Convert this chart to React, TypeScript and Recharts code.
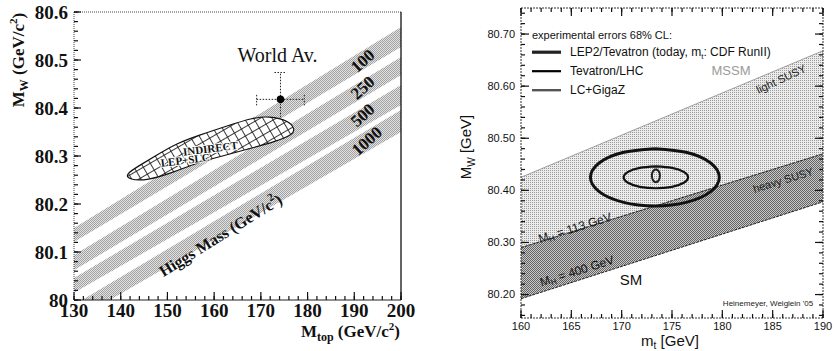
import React from 'react';
import { ComposedChart, XAxis, YAxis, Area, Scatter, ErrorBar, ReferenceDot } from 'recharts';

// ---------------- Left panel data (M_top vs M_W, Higgs bands) ----------------
const leftTopMassTicks = [130, 140, 150, 160, 170, 180, 190, 200];
const leftMwTicks = [80, 80.1, 80.2, 80.3, 80.4, 80.5, 80.6];
const higgsLabels = ['100', '250', '500', '1000'];
const bandEndsMtop = [130, 200];
const bandLowAt130 = [80.121, 80.062, 80.015, 79.957];
const bandHighAt130 = [80.15, 80.094, 80.046, 79.99];
const bandLowAt200 = [80.527, 80.469, 80.406, 80.35];
const bandHighAt200 = [80.569, 80.506, 80.448, 80.396];
const higgsLabelMtop = [191.8, 191.8, 191.8, 192.7];
const higgsLabelMw = [80.498, 80.442, 80.385, 80.331];

// outline of the hatched INDIRECT (LEP+SLC) contour
const indirectMtop = [161.35, 167.07, 172.8, 176.4, 177.0, 175.6, 171.8, 167.79, 162.78, 157.06, 152.05, 147.75, 144.17, 141.6, 142.3, 146.0, 151.33, 156.34, 161.35];
const indirectMw = [80.299, 80.314, 80.33, 80.345, 80.357, 80.372, 80.381, 80.377, 80.3625, 80.344, 80.325, 80.302, 80.281, 80.263, 80.252, 80.252, 80.267, 80.285, 80.299];

const worldMtop = [174.2];
const worldMw = [80.418];
const worldMtopErr = [5.1];
const worldMwErr = [0.056];

// ---------------- Right panel data (m_t vs M_W, MSSM / SM) ----------------
const rightTopMassTicks = [160, 165, 170, 175, 180, 185, 190];
const rightMwTicks = [80.2, 80.3, 80.4, 80.5, 80.6, 80.7];
const regionEndsMt = [160, 190];
const mssmUpperMw = [80.425, 80.668];
const mh113Mw = [80.29, 80.47];
const mh400Mw = [80.192, 80.378];

const outerMt = [173.3, 176.5, 178.84, 179.7, 178.84, 176.5, 173.3, 170.1, 167.76, 166.9, 167.76, 170.1, 173.3];
const outerMw = [80.48, 80.4726, 80.4525, 80.425, 80.3975, 80.3774, 80.37, 80.3774, 80.3975, 80.425, 80.4525, 80.4726, 80.48];
const innerMt = [173.4, 175.0, 176.17, 176.6, 176.17, 175.0, 173.4, 171.8, 170.63, 170.2, 170.63, 171.8, 173.4];
const innerMw = [80.446, 80.4432, 80.4355, 80.425, 80.4145, 80.4068, 80.404, 80.4068, 80.4145, 80.425, 80.4355, 80.4432, 80.446];
const gigazMt = [173.4, 173.68, 173.8, 173.68, 173.4, 173.12, 173.0, 173.12, 173.4];
const gigazMw = [80.4405, 80.4368, 80.428, 80.4192, 80.4155, 80.4192, 80.428, 80.4368, 80.4405];

const legendEntries = ['LEP2/Tevatron (today, m', 'Tevatron/LHC', 'LC+GigaZ'];

// ---------------- helpers ----------------
const SERIF = '"Liberation Serif", "Times New Roman", serif';
const SANS = '"Liberation Sans", Arial, Helvetica, sans-serif';
const TICK_COLOR = '#111';

function range(start: number, stop: number, step: number): number[] {
  const out: number[] = [];
  const n = Math.round((stop - start) / step);
  for (let i = 0; i <= n; i++) out.push(Number((start + i * step).toFixed(4)));
  return out;
}

const pts = (xs: number[], ys: number[]) => xs.map((x, i) => ({ x, y: ys[i] }));
const noDot = () => <g />;

type Side = 'top' | 'bottom' | 'left' | 'right';

const note = (key: string, x: number, y: number, draw: (cx: number, cy: number) => React.ReactElement) => (
  <ReferenceDot key={key} x={x} y={y} r={0} fill="none" stroke="none" ifOverflow="visible" shape={(p: any) => draw(p.cx, p.cy)} />
);

// inward tick marks placed on the frame through the chart's own scales
const tickMarks = (prefix: string, values: number[], side: Side, edge: number, len: number) =>
  values.map((v) => {
    const onX = side === 'top' || side === 'bottom';
    return note(`${prefix}${v}`, onX ? v : edge, onX ? edge : v, (cx, cy) => {
      const d = side === 'bottom' ? [cx, cy, cx, cy - len] : side === 'top' ? [cx, cy, cx, cy + len]
        : side === 'left' ? [cx, cy, cx + len, cy] : [cx, cy, cx - len, cy];
      return <line x1={d[0]} y1={d[1]} x2={d[2]} y2={d[3]} stroke={TICK_COLOR} strokeWidth={1.2} />;
    });
  });

const frameX = (id: string, orientation: 'top' | 'bottom', domain: number[], axisLine: any) => (
  <XAxis key={id} xAxisId={id} dataKey="x" orientation={orientation} mirror type="number" domain={domain as any} allowDataOverflow
    ticks={domain} interval={0} tick={false} tickLine={false} axisLine={axisLine} height={2} />
);
const frameY = (id: string, orientation: 'left' | 'right', domain: number[], axisLine: any) => (
  <YAxis key={id} yAxisId={id} dataKey="y" orientation={orientation} mirror type="number" domain={domain as any} allowDataOverflow
    ticks={domain} interval={0} tick={false} tickLine={false} axisLine={axisLine} width={2} />
);

function Patterns() {
  return (
    <svg width={0} height={0} style={{ position: 'absolute' }}>
      <defs>
        <pattern id="bandStipple" width={2} height={2} patternUnits="userSpaceOnUse">
          <rect width={2} height={2} fill="#e2e2e2" />
          <rect x={0} y={0} width={1} height={1} fill="#a2a2a2" />
          <rect x={1} y={1} width={1} height={1} fill="#a2a2a2" />
        </pattern>
        <pattern id="indirectHatch" width={8} height={8} patternUnits="userSpaceOnUse" patternTransform="rotate(-30)">
          <rect width={8} height={8} fill="#ffffff" />
          <path d="M0 0.5 H8 M0.5 0 V8" stroke="#222" strokeWidth={0.9} />
        </pattern>
        <pattern id="mssmStipple" width={2} height={2} patternUnits="userSpaceOnUse">
          <rect width={2} height={2} fill="#ececec" />
          <rect width={1} height={1} fill="#9a9a9a" />
        </pattern>
        <pattern id="smStipple" width={2} height={2} patternUnits="userSpaceOnUse">
          <rect width={2} height={2} fill="#c8c8c8" />
          <rect width={1} height={1} fill="#646464" />
          <rect x={1} y={1} width={1} height={1} fill="#646464" />
        </pattern>
      </defs>
    </svg>
  );
}

const bandData = (i: number) =>
  bandEndsMtop.map((x, j) => ({ x, r: j === 0 ? [bandLowAt130[i], bandHighAt130[i]] : [bandLowAt200[i], bandHighAt200[i]] }));

function LeftPanel() {
  const xd = [130, 200];
  const yd = [80, 80.6];
  const labelStyle = { fill: '#111', fontSize: 19, fontWeight: 700, fontFamily: SERIF };
  const world = worldMtop.map((x, i) => ({ x, y: worldMw[i], ex: worldMtopErr[i], ey: worldMwErr[i] }));
  return (
    <div style={{ position: 'relative', width: 420, height: 351 }}>
      <ComposedChart width={420} height={351} margin={{ top: 12, right: 19, bottom: 0, left: 0 }}>
        <XAxis dataKey="x" type="number" domain={xd} allowDataOverflow ticks={leftTopMassTicks} interval={0}
          tickLine={false} tickSize={0} tickMargin={4} height={51} axisLine={{ stroke: '#222', strokeWidth: 1.2 }} tick={labelStyle} />
        <YAxis dataKey="y" type="number" domain={yd} allowDataOverflow ticks={leftMwTicks} interval={0}
          tickLine={false} tickSize={0} tickMargin={6} width={74} axisLine={{ stroke: '#444', strokeWidth: 1, strokeDasharray: '1 1' }}
          tick={labelStyle} tickFormatter={(v: number) => String(v)} />
        {frameX('ltop', 'top', xd, { stroke: '#444', strokeWidth: 1, strokeDasharray: '1 1' })}
        {frameY('lright', 'right', yd, { stroke: '#111', strokeWidth: 1.3 })}

        {higgsLabels.map((h, i) => (
          <Area key={`band${h}`} data={bandData(i)} dataKey="r" type="linear" stroke="none" fill="url(#bandStipple)"
            fillOpacity={1} dot={false} activeDot={false} isAnimationActive={false} />
        ))}

        <Scatter data={pts(indirectMtop, indirectMw)} line={{ stroke: '#111', strokeWidth: 1.2, fill: 'url(#indirectHatch)' }}
          lineJointType="natural" shape={noDot} isAnimationActive={false} />

        <Scatter data={world} isAnimationActive={false}
          shape={(p: any) => <circle cx={p.cx} cy={p.cy} r={3.8} fill="#000" />}>
          <ErrorBar dataKey="ex" direction="x" width={6} stroke="#222" strokeWidth={1} strokeDasharray="1.5 1.5" />
          <ErrorBar dataKey="ey" direction="y" width={6} stroke="#222" strokeWidth={1} strokeDasharray="1.5 1.5" />
        </Scatter>

        {tickMarks('lbM', leftTopMassTicks, 'bottom', yd[0], 8)}
        {tickMarks('lbm', range(130, 200, 2), 'bottom', yd[0], 4)}
        {tickMarks('llM', leftMwTicks, 'left', xd[0], 7)}
        {tickMarks('llm', range(80, 80.6, 0.02), 'left', xd[0], 4)}

        {note('wa', 165.0, 80.496, (cx, cy) => (
          <text x={cx} y={cy} fontFamily={SERIF} fontSize={20} fill="#111">World Av.</text>
        ))}
        {higgsLabels.map((h, i) =>
          note(`hl${h}`, higgsLabelMtop[i], higgsLabelMw[i], (cx, cy) => (
            <text transform={`translate(${cx},${cy}) rotate(-42)`} textAnchor="middle" dominantBaseline="central"
              fontFamily={SERIF} fontWeight={700} fontSize={17} fill="#111">{h}</text>
          ))
        )}
        {note('hm', 161.35, 80.135, (cx, cy) => (
          <text transform={`translate(${cx},${cy}) rotate(-32)`} textAnchor="middle" dominantBaseline="central"
            fontFamily={SERIF} fontWeight={700} fontSize={16} fill="#111">
            Higgs Mass (GeV/c<tspan dy={-6} fontSize={11}>2</tspan><tspan dy={6}>)</tspan>
          </text>
        ))}
        {note('ind', 159.2, 80.316, (cx, cy) => (
          <text transform={`translate(${cx},${cy}) rotate(-7)`} textAnchor="middle" dominantBaseline="central"
            fontFamily={SERIF} fontWeight={700} fontSize={11} fill="#111" stroke="#fff" strokeWidth={2} paintOrder="stroke">INDIRECT</text>
        ))}
        {note('lep', 153.8, 80.292, (cx, cy) => (
          <text transform={`translate(${cx},${cy}) rotate(-7)`} textAnchor="middle" dominantBaseline="central"
            fontFamily={SERIF} fontWeight={700} fontSize={11} fill="#111" stroke="#fff" strokeWidth={2} paintOrder="stroke">LEP+SLC</text>
        ))}
      </ComposedChart>
      <svg width={420} height={351} style={{ position: 'absolute', left: 0, top: 0, pointerEvents: 'none' }}>
        <text transform="translate(24,60) rotate(-90)" textAnchor="middle" fontFamily={SERIF} fontWeight={700} fontSize={17} fill="#111">
          M<tspan dy={4} fontSize={12}>W</tspan><tspan dy={-4}> (GeV/c</tspan><tspan dy={-7} fontSize={11}>2</tspan><tspan dy={7}>)</tspan>
        </text>
        <text x={400} y={337} textAnchor="end" fontFamily={SERIF} fontWeight={700} fontSize={17} fill="#111">
          M<tspan dy={4} fontSize={12}>top</tspan><tspan dy={-4}> (GeV/c</tspan><tspan dy={-7} fontSize={11}>2</tspan><tspan dy={7}>)</tspan>
        </text>
      </svg>
    </div>
  );
}

function RightPanel() {
  const xd = [160, 190];
  const yd = [80.155, 80.75];
  const frame = { stroke: '#333', strokeWidth: 1, strokeDasharray: '2 1' };
  const labelStyle = { fill: '#111', fontSize: 11, fontFamily: SANS };
  const mssm = regionEndsMt.map((x, j) => ({ x, r: [mh113Mw[j], mssmUpperMw[j]] }));
  const sm = regionEndsMt.map((x, j) => ({ x, r: [mh400Mw[j], mh113Mw[j]] }));
  const legendStroke = [3.2, 2.2, 2.4];
  const legendColor = ['#222', '#000', '#555'];
  const minorX = range(160, 190, 1);
  const minorY = range(80.16, 80.74, 0.02);
  return (
    <div style={{ position: 'relative', width: 406, height: 351 }}>
      <ComposedChart width={406} height={351} margin={{ top: 8, right: 13, bottom: 0, left: 0 }}>
        <XAxis dataKey="x" type="number" domain={xd} allowDataOverflow ticks={rightTopMassTicks} interval={0}
          tickLine={false} tickSize={0} tickMargin={4} height={33} axisLine={frame} tick={labelStyle} />
        <YAxis dataKey="y" type="number" domain={yd} allowDataOverflow ticks={rightMwTicks} interval={0}
          tickLine={false} tickSize={0} tickMargin={6} width={91} axisLine={frame} tick={labelStyle}
          tickFormatter={(v: number) => v.toFixed(2)} />
        {frameX('rtop', 'top', xd, frame)}
        {frameY('rright', 'right', yd, frame)}

        <Area data={mssm} dataKey="r" type="linear" stroke="#8a8a8a" strokeWidth={0.8} fill="url(#mssmStipple)"
          fillOpacity={1} dot={false} activeDot={false} isAnimationActive={false} />
        <Area data={sm} dataKey="r" type="linear" stroke="#222" strokeWidth={1} strokeDasharray="3 1" fill="url(#smStipple)"
          fillOpacity={1} dot={false} activeDot={false} isAnimationActive={false} />

        <Scatter data={pts(outerMt, outerMw)} line={{ stroke: '#111', strokeWidth: 3, fill: 'none' }}
          lineJointType="natural" shape={noDot} isAnimationActive={false} />
        <Scatter data={pts(innerMt, innerMw)} line={{ stroke: '#111', strokeWidth: 2.2, fill: 'none' }}
          lineJointType="natural" shape={noDot} isAnimationActive={false} />
        <Scatter data={pts(gigazMt, gigazMw)} line={{ stroke: '#222', strokeWidth: 2, fill: 'none' }}
          lineJointType="natural" shape={noDot} isAnimationActive={false} />

        {tickMarks('rbM', rightTopMassTicks, 'bottom', yd[0], 8)}
        {tickMarks('rbm', minorX, 'bottom', yd[0], 4)}
        {tickMarks('rtM', rightTopMassTicks, 'top', yd[1], 8)}
        {tickMarks('rtm', minorX, 'top', yd[1], 4)}
        {tickMarks('rlM', rightMwTicks, 'left', xd[0], 8)}
        {tickMarks('rlm', minorY, 'left', xd[0], 4)}
        {tickMarks('rrM', rightMwTicks, 'right', xd[1], 8)}
        {tickMarks('rrm', minorY, 'right', xd[1], 4)}

        {note('legend', 161.09, 80.717, (cx, cy) => (
          <g fontFamily={SANS} fill="#111">
            <text x={cx} y={cy + 14} fontSize={11}>experimental errors 68% CL:</text>
            {legendEntries.map((t, i) => (
              <g key={t}>
                <line x1={cx} x2={cx + 29} y1={cy + 27 + i * 19} y2={cy + 27 + i * 19} stroke={legendColor[i]} strokeWidth={legendStroke[i]} />
                <text x={cx + 38} y={cy + 31 + i * 19} fontSize={12}>
                  {t}
                  {i === 0 ? <><tspan dy={3} fontSize={8}>t</tspan><tspan dy={-3}>: CDF RunII)</tspan></> : null}
                </text>
              </g>
            ))}
          </g>
        ))}
        {note('mssm', 180.86, 80.631, (cx, cy) => (
          <text x={cx} y={cy} textAnchor="middle" dominantBaseline="central" fontFamily={SANS} fontSize={13} fill="#9a9a9a">MSSM</text>
        ))}
        {note('light', 185.83, 80.614, (cx, cy) => (
          <text transform={`translate(${cx},${cy}) rotate(-25)`} textAnchor="middle" dominantBaseline="central"
            fontFamily={SANS} fontSize={11} fill="#222">light SUSY</text>
        ))}
        {note('heavy', 186.03, 80.42, (cx, cy) => (
          <text transform={`translate(${cx},${cy}) rotate(-17)`} textAnchor="middle" dominantBaseline="central"
            fontFamily={SANS} fontSize={11} fill="#222">heavy SUSY</text>
        ))}
        {note('mh113', 165.36, 80.328, (cx, cy) => (
          <text transform={`translate(${cx},${cy}) rotate(-17.5)`} textAnchor="middle" dominantBaseline="central"
            fontFamily={SANS} fontSize={12} fill="#111">M<tspan dy={3} fontSize={8}>H</tspan><tspan dy={-3}> = 113 GeV</tspan></text>
        ))}
        {note('mh400', 165.56, 80.245, (cx, cy) => (
          <text transform={`translate(${cx},${cy}) rotate(-17.5)`} textAnchor="middle" dominantBaseline="central"
            fontFamily={SANS} fontSize={12} fill="#111">M<tspan dy={3} fontSize={8}>H</tspan><tspan dy={-3}> = 400 GeV</tspan></text>
        ))}
        {note('sm', 170.93, 80.228, (cx, cy) => (
          <text x={cx} y={cy} textAnchor="middle" dominantBaseline="central" fontFamily={SANS} fontSize={15} fill="#111">SM</text>
        ))}
        {note('credit', 184.54, 80.182, (cx, cy) => (
          <text x={cx} y={cy} textAnchor="middle" dominantBaseline="central" fontFamily={SANS} fontSize={8} fill="#222">Heinemeyer, Weiglein '05</text>
        ))}
      </ComposedChart>
      <svg width={406} height={351} style={{ position: 'absolute', left: 0, top: 0, pointerEvents: 'none' }}>
        <text transform="translate(41,147) rotate(-90)" textAnchor="middle" fontFamily={SANS} fontSize={15} fill="#111">
          M<tspan dy={4} fontSize={10}>W</tspan><tspan dy={-4}> [GeV]</tspan>
        </text>
        <text x={240} y={346} textAnchor="middle" fontFamily={SANS} fontSize={15} fill="#111">
          m<tspan dy={2.5} fontSize={10}>t</tspan><tspan dy={-2.5}> [GeV]</tspan>
        </text>
      </svg>
    </div>
  );
}

export default function App() {
  return (
    <div style={{ position: 'absolute', left: 0, top: 0, width: 836, height: 351, background: '#fff', overflow: 'hidden' }}>
      <Patterns />
      <div style={{ position: 'absolute', left: 0, top: 0 }}><LeftPanel /></div>
      <div style={{ position: 'absolute', left: 430, top: 0 }}><RightPanel /></div>
    </div>
  );
}
